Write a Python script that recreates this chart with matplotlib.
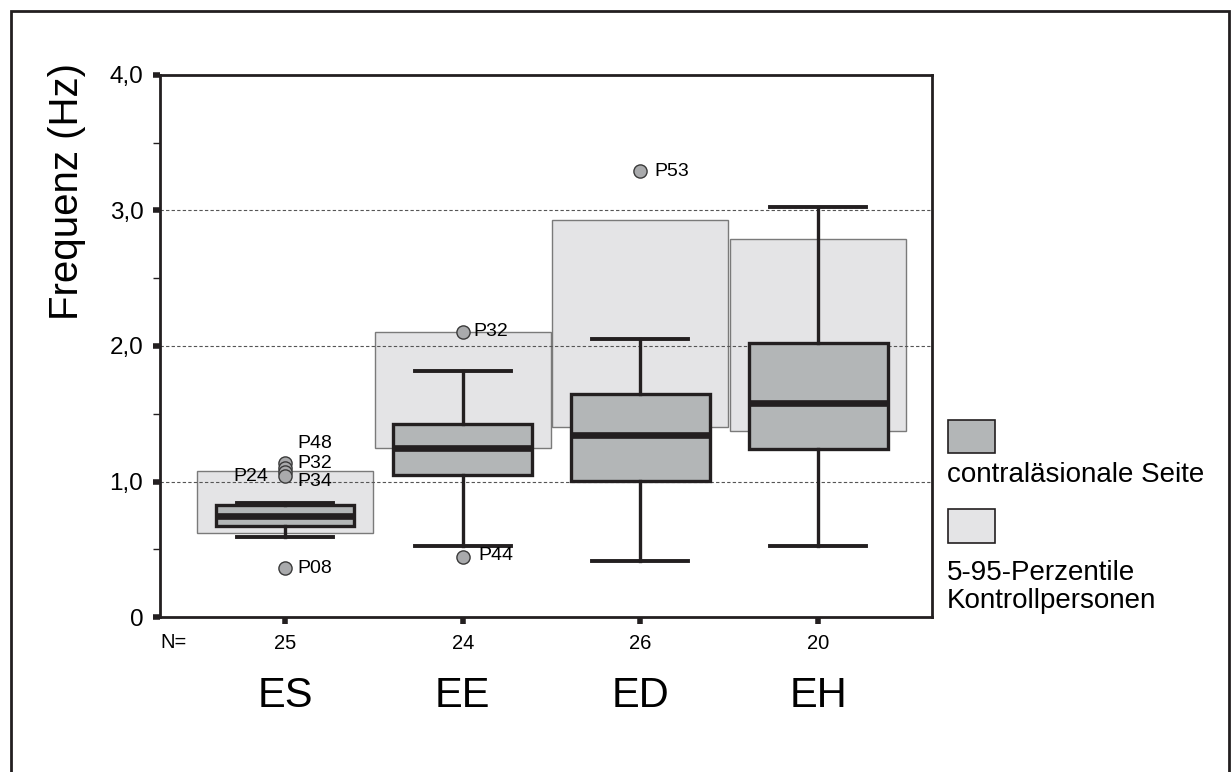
#!/usr/bin/env python
# coding: utf-8

import matplotlib
matplotlib.use("Agg")
from matplotlib import pyplot as plt
from matplotlib.patches import Rectangle

plt.rcParams['font.family'] = ['Liberation Sans', 'DejaVu Sans']

# data
groups = ["ES", "EE", "ED", "EH"]
n_counts = [25, 24, 26, 20]
whisker_low = [0.594, 0.523, 0.415, 0.523]
q1 = [0.668, 1.047, 1.002, 1.243]
median = [0.744, 1.249, 1.340, 1.581]
q3 = [0.823, 1.428, 1.647, 2.024]
whisker_high = [0.845, 1.812, 2.055, 3.024]

# 5-95 percentiles of control persons
ctrl_p5 = [0.62, 1.244, 1.40, 1.37]
ctrl_p95 = [1.074, 2.107, 2.93, 2.79]

# outliers: group index, value, label
outlier_group = [0, 0, 0, 0, 0, 1, 1, 2]
outlier_value = [1.14, 1.10, 1.07, 1.04, 0.36, 2.105, 0.44, 3.29]
outlier_label = ["P48", "P32", "P24", "P34", "P08", "P32", "P44", "P53"]
# label offsets in points (dx, dy) and alignment
label_offset = [(9, 14), (9, 3), (-12, -3), (9, -4), (9, 0), (8, 0), (11, 1), (10, 0)]
label_ha = ["left", "left", "right", "left", "left", "left", "left", "left"]

dark = "#231f20"
box_grey = "#b3b6b7"
ctrl_grey = "#e4e4e6"

fig = plt.figure(figsize=(12.31, 7.72), dpi=100)
ax = fig.add_axes([160 / 1231, 1 - 617 / 772, (932 - 160) / 1231, (617 - 75) / 772])

pos = list(range(1, len(groups) + 1))

# control boxes behind everything
ax.bar(pos, [h - l for h, l in zip(ctrl_p95, ctrl_p5)], bottom=ctrl_p5, width=0.99,
       color=ctrl_grey, edgecolor="#7a7a7a", linewidth=1.0, zorder=1)

# dashed grid lines
for gy in [1.0, 2.0, 3.0]:
    ax.axhline(gy, color="#555555", linestyle=(0, (3, 2)), linewidth=0.8, zorder=2)

stats = []
for i in range(len(groups)):
    stats.append({"whislo": whisker_low[i], "q1": q1[i], "med": median[i],
                  "q3": q3[i], "whishi": whisker_high[i], "fliers": []})

ax.bxp(stats, positions=pos, widths=0.78, capwidths=0.54, patch_artist=True,
       showfliers=False, manage_ticks=False, zorder=3,
       boxprops=dict(facecolor=box_grey, edgecolor=dark, linewidth=2.4),
       medianprops=dict(color=dark, linewidth=4.8, solid_capstyle="butt"),
       whiskerprops=dict(color=dark, linewidth=2.4),
       capprops=dict(color=dark, linewidth=2.8))

# outliers
for g, v, lab, off, ha in zip(outlier_group, outlier_value, outlier_label, label_offset, label_ha):
    ax.plot(pos[g], v, "o", markersize=9.5, markerfacecolor="#a9aaac",
            markeredgecolor="#3a3a3a", markeredgewidth=1.0, zorder=4)
    ax.annotate(lab, (pos[g], v), xytext=off, textcoords="offset points",
                ha=ha, va="center", fontsize=14, color="black", zorder=5)

ax.set_xlim(0.297, 4.64)
ax.set_ylim(0, 4.0)

ax.set_yticks([0, 1, 2, 3, 4])
ax.set_yticklabels(["0", "1,0", "2,0", "3,0", "4,0"], fontsize=17.5)
ax.set_yticks([0.5, 1.5, 2.5, 3.5], minor=True)
ax.tick_params(axis="y", which="major", length=5, width=4, color=dark, pad=7)
ax.tick_params(axis="y", which="minor", length=5, width=1, color=dark)
ax.set_xticks(pos)
ax.set_xticklabels([str(n) for n in n_counts], fontsize=14.5)
ax.tick_params(axis="x", which="major", length=5, width=4, color=dark, pad=7)

for s in ax.spines.values():
    s.set_linewidth(2.0)
    s.set_color(dark)
    s.set_zorder(6)

# N= and group names under the axis
fig.text(174 / 1231, 1 - 642 / 772, "N=", fontsize=14.5, ha="center", va="center")
for p, g in zip(pos, groups):
    ax.annotate(g, (p, 0), xycoords=("data", "axes fraction"), xytext=(0, -57),
                textcoords="offset points", ha="center", va="center", fontsize=30)

fig.text(67 / 1231, 1 - 191 / 772, "Frequenz (Hz)", rotation=90, fontsize=29,
         ha="center", va="center")

# legend on the right
fig.patches.append(Rectangle((948 / 1231, 1 - 453 / 772), 47 / 1231, 33 / 772,
                             transform=fig.transFigure, facecolor=box_grey,
                             edgecolor=dark, linewidth=1.2))
fig.text(947 / 1231, 1 - 475 / 772, "contraläsionale Seite", fontsize=20,
         ha="left", va="center")
fig.patches.append(Rectangle((948 / 1231, 1 - 543 / 772), 47 / 1231, 34 / 772,
                             transform=fig.transFigure, facecolor=ctrl_grey,
                             edgecolor=dark, linewidth=1.2))
fig.text(947 / 1231, 1 - 587 / 772, "5-95-Perzentile\nKontrollpersonen", fontsize=20,
         ha="left", va="center", linespacing=1.1)

# outer frame
fig.patches.append(Rectangle((11 / 1231, -0.05), (1229 - 11) / 1231, 1.05 - 11 / 772,
                             transform=fig.transFigure, facecolor="none",
                             edgecolor=dark, linewidth=2.0))

fig.savefig("out.png", dpi=100)
